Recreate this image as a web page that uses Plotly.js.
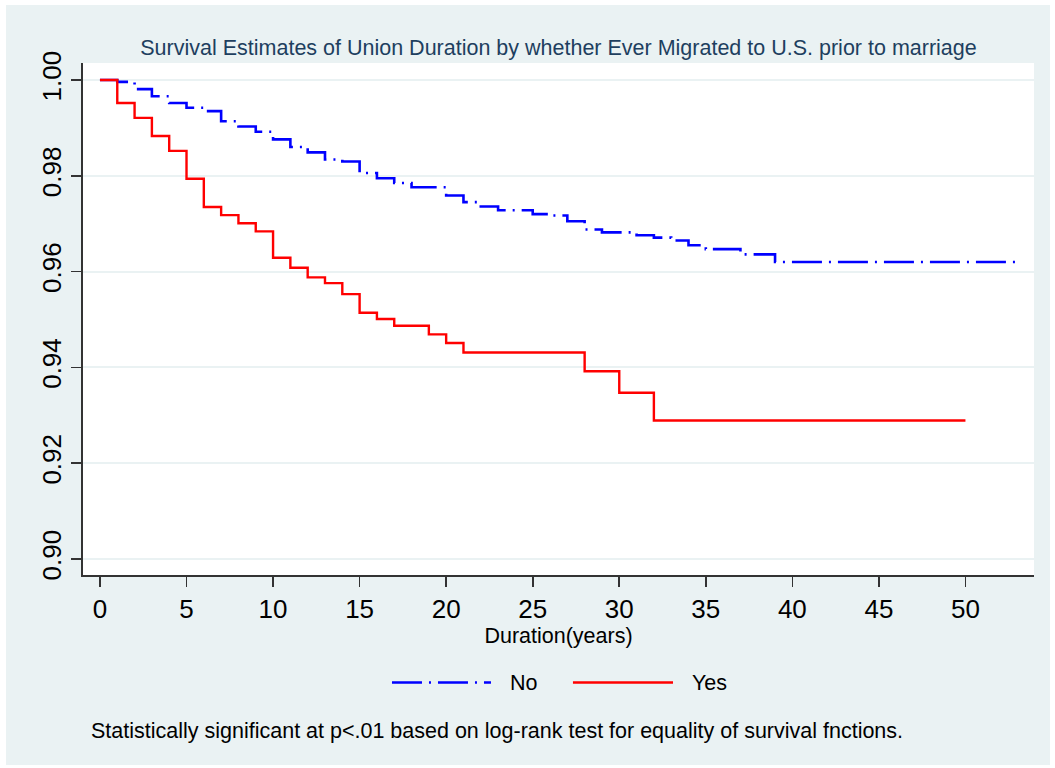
<!DOCTYPE html>
<html>
<head>
<meta charset="utf-8">
<script src="https://cdn.plot.ly/plotly-3.0.1.min.js"></script>
<style>
  html, body { margin: 0; padding: 0; background: #ffffff; }
  #chart { position: absolute; left: 6px; top: 5px; width: 1044px; height: 760px; }
</style>
</head>
<body>
<div id="chart"></div>
<script>
// ---- Data ----
const titleText = "Survival Estimates of Union Duration by whether Ever Migrated to U.S. prior to marriage";
const xAxisTitle = "Duration(years)";
const footnote = "Statistically significant at p<.01 based on log-rank test for equality of survival fnctions.";
const seriesNames = ["No", "Yes"];

// "No" group (never migrated before marriage)
const noTime = [0, 1, 2, 3, 4, 5, 6, 7, 8, 9, 10, 11, 12, 13, 14, 15, 16, 17, 18, 20, 21, 22, 23, 25, 26, 27, 28, 29, 31, 32, 33, 34, 35, 37, 39, 53];
const noSurv = [1.0, 0.9996, 0.9981, 0.9966, 0.9952, 0.9942, 0.9935, 0.9914, 0.9903, 0.9892, 0.9876, 0.9860, 0.9849, 0.9834, 0.9830, 0.9806, 0.9795, 0.9785, 0.9776, 0.9759, 0.9745, 0.9736, 0.9728, 0.9720, 0.9717, 0.9705, 0.9688, 0.9682, 0.9676, 0.9671, 0.9665, 0.9655, 0.9647, 0.9636, 0.9620, 0.9620];

// "Yes" group (migrated before marriage)
const yesTime = [0, 1, 2, 3, 4, 5, 6, 7, 8, 9, 10, 11, 12, 13, 14, 15, 16, 17, 19, 20, 21, 28, 30, 32, 50];
const yesSurv = [1.0, 0.9952, 0.9921, 0.9883, 0.9852, 0.9794, 0.9735, 0.9718, 0.9701, 0.9684, 0.9629, 0.9608, 0.9588, 0.9576, 0.9553, 0.9514, 0.9501, 0.9487, 0.9469, 0.9451, 0.9431, 0.9392, 0.9347, 0.9289, 0.9289];

const xTicks = [0, 5, 10, 15, 20, 25, 30, 35, 40, 45, 50];
const yTicks = [0.90, 0.92, 0.94, 0.96, 0.98, 1.00];

// ---- Styles ----
const FONT = "Liberation Sans, Arial, Helvetica, sans-serif";
const noStyle = { color: "#0000FF", width: 2.6, dash: "30px,7px,2px,7px" };
const yesStyle = { color: "#FF0000", width: 2.4, dash: "solid" };
const bg = "#EAF2F3";

const traces = [
  { x: noTime, y: noSurv, name: seriesNames[0], type: "scatter", mode: "lines",
    line: Object.assign({ shape: "hv" }, noStyle), showlegend: false },
  { x: yesTime, y: yesSurv, name: seriesNames[1], type: "scatter", mode: "lines",
    line: Object.assign({ shape: "hv" }, yesStyle), showlegend: false }
];

const legY = -0.21;
const layout = {
  width: 1044, height: 760,
  margin: { l: 77, r: 16, t: 58, b: 190 },
  paper_bgcolor: bg,
  plot_bgcolor: "#ffffff",
  font: { family: FONT, color: "#000000", size: 21.5 },
  title: { text: titleText, font: { family: FONT, size: 21.5, color: "#1E3F5F" },
           x: 0.5, xref: "paper", y: 1 - 42 / 760, yref: "container", yanchor: "middle" },
  xaxis: {
    range: [-0.98, 53.96], tickvals: xTicks, ticktext: xTicks.map(String),
    showgrid: false, zeroline: false, showline: true, linecolor: "#333333", linewidth: 1.6,
    ticks: "outside", ticklen: 10, tickwidth: 1.6, tickcolor: "#333333",
    tickfont: { family: FONT, size: 26, color: "#000000" },
    title: { text: xAxisTitle, font: { family: FONT, size: 21.5, color: "#000000" }, standoff: 2 },
    fixedrange: true
  },
  yaxis: {
    range: [0.89666, 1.00355], tickvals: yTicks, ticktext: yTicks.map(v => v.toFixed(2)),
    tickangle: -90,
    showgrid: true, gridcolor: bg, gridwidth: 2,
    zeroline: false, showline: true, linecolor: "#333333", linewidth: 1.6,
    ticks: "outside", ticklen: 10, tickwidth: 1.6, tickcolor: "#333333",
    tickfont: { family: FONT, size: 26, color: "#000000" },
    fixedrange: true
  },
  shapes: [
    { type: "line", xref: "paper", yref: "paper", x0: 0.3249, x1: 0.4290, y0: legY, y1: legY,
      line: { color: noStyle.color, width: noStyle.width, dash: noStyle.dash } },
    { type: "line", xref: "paper", yref: "paper", x0: 0.5152, x1: 0.6204, y0: legY, y1: legY,
      line: { color: yesStyle.color, width: yesStyle.width, dash: yesStyle.dash } }
  ],
  annotations: [
    { text: seriesNames[0], xref: "paper", yref: "paper", x: 0.4469, y: legY,
      xanchor: "left", yanchor: "middle", showarrow: false,
      font: { family: FONT, size: 21.5, color: "#000000" } },
    { text: seriesNames[1], xref: "paper", yref: "paper", x: 0.6383, y: legY,
      xanchor: "left", yanchor: "middle", showarrow: false,
      font: { family: FONT, size: 21.5, color: "#000000" } },
    { text: footnote, xref: "paper", yref: "paper", x: 0.0063, y: -0.3047,
      xanchor: "left", yanchor: "middle", showarrow: false,
      font: { family: FONT, size: 21.5, color: "#000000" } }
  ]
};

Plotly.newPlot("chart", traces, layout, { displayModeBar: false, staticPlot: true });
</script>
</body>
</html>
